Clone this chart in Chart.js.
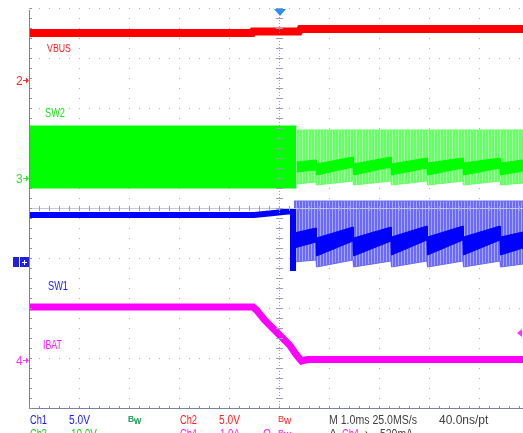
<!DOCTYPE html>
<html lang="en">
<head>
<meta charset="UTF-8">
<title>VBUS / SW2 / SW1 / IBAT capture</title>
<style>
    html, body { margin: 0; padding: 0; background: #fff; overflow: hidden; }
    canvas { display: block; }
</style>
</head>
<body>
<canvas id="scope" width="523" height="433"></canvas>
<script src="https://cdn.jsdelivr.net/npm/chart.js@4.4.1/dist/chart.umd.min.js"></script>
<script>
    // time in ms (1.0 ms/div, trigger at 0), level in divisions (0 = centre line)
    const vbusTime  = [-5, -0.54, -0.52, 0.40, 0.43, 4.88];
    const vbusLevel = [3.50, 3.50, 3.53, 3.53, 3.58, 3.58];

    const sw2PreTime   = [-5, 0.35];
    const sw2PreTop    = [1.64, 1.64];
    const sw2PreBottom = [0.40, 0.40];

    const sw2PostTime   = [0.35, 0.74, 0.75, 1.48, 1.49, 2.24, 2.25, 2.96, 2.97, 3.68, 3.69, 4.42, 4.43, 4.88];
    const sw2LightTop   = [1.56, 1.56, 1.56, 1.56, 1.56, 1.56, 1.56, 1.56, 1.56, 1.56, 1.56, 1.56, 1.56, 1.56];
    const sw2LightBot   = [0.48, 0.52, 0.46, 0.54, 0.46, 0.54, 0.46, 0.54, 0.46, 0.54, 0.46, 0.54, 0.46, 0.50];
    const sw2DarkTop    = [0.92, 0.96, 0.88, 1.02, 0.88, 1.02, 0.88, 1.00, 0.90, 1.00, 0.90, 1.00, 0.90, 0.96];
    const sw2DarkBot    = [0.72, 0.76, 0.66, 0.82, 0.66, 0.82, 0.66, 0.80, 0.66, 0.80, 0.66, 0.80, 0.66, 0.74];

    const sw1PreTime  = [-5, -0.50, -0.10, 0.26, 0.28, 0.28];
    const sw1PreLevel = [-0.14, -0.14, -0.10, -0.06, -0.06, -1.26];

    const sw1PostTime   = [0.30, 0.74, 0.75, 1.48, 1.49, 2.24, 2.25, 2.96, 2.97, 3.68, 3.69, 4.42, 4.43, 4.88];
    const sw1LightTop   = [0.14, 0.14, 0.14, 0.14, 0.14, 0.14, 0.14, 0.14, 0.14, 0.14, 0.14, 0.14, 0.14, 0.14];
    const sw1LightBot   = [-1.08, -1.04, -1.18, -1.04, -1.18, -1.06, -1.18, -1.06, -1.18, -1.06, -1.18, -1.06, -1.18, -1.12];
    const sw1DarkTop    = [-0.50, -0.40, -0.60, -0.38, -0.60, -0.38, -0.58, -0.36, -0.58, -0.36, -0.58, -0.36, -0.58, -0.48];
    const sw1DarkBot    = [-0.80, -0.68, -0.96, -0.66, -0.96, -0.66, -0.94, -0.64, -0.94, -0.64, -0.94, -0.64, -0.94, -0.80];

    const ibatTime  = [-5, -0.52, -0.45, -0.29, 0.01, 0.21, 0.35, 0.45, 0.57, 4.88];
    const ibatLevel = [-1.98, -1.98, -2.04, -2.24, -2.54, -2.74, -2.94, -3.06, -3.03, -3.03];

    const pts = (t, v) => t.map((x, i) => ({x: x, y: v[i]}));

    function stripes(color, gap) {
        let c = document.createElement('canvas');
        c.width = 3;
        c.height = 4;
        let g = c.getContext('2d');
        g.fillStyle = gap;
        g.fillRect(0, 0, 3, 4);
        g.fillStyle = color;
        g.fillRect(0, 0, 2, 4);
        return g.createPattern(c, 'repeat');
    }

    function trace(t, v, color, width, fill) {
        return {
            data: pts(t, v),
            borderColor: color,
            borderWidth: width,
            backgroundColor: fill || color,
            fill: fill ? '-1' : false,
            pointRadius: 0,
            tension: 0
        };
    }

    function text(ctx, s, x, y, color, size, w) {
        ctx.font = size + 'px "Liberation Sans", Arial, sans-serif';
        ctx.fillStyle = color;
        if (w) ctx.fillText(s, x, y, w); else ctx.fillText(s, x, y);
    }

    function bw(ctx, x, color) {
        text(ctx, 'B', x, 422, color, 9);
        text(ctx, 'w', x + 6, 424, color, 10);
    }

    const scopeDecor = {
        id: 'scopeDecor',
        afterDatasetsDraw(chart) {
            const ctx = chart.ctx, a = chart.chartArea;
            const cx = Math.round(chart.scales.x.getPixelForValue(0));
            const cy = Math.round(chart.scales.y.getPixelForValue(0));
            ctx.save();
            // centre lines with minor ticks
            ctx.strokeStyle = '#c6c9d9';
            ctx.lineWidth = 1;
            ctx.beginPath();
            ctx.moveTo(a.left, cy + 0.5);
            ctx.lineTo(a.right, cy + 0.5);
            ctx.stroke();
            ctx.setLineDash([1, 2]);
            ctx.strokeStyle = '#9aa0bc';
            ctx.beginPath();
            ctx.moveTo(cx + 0.5, a.top);
            ctx.lineTo(cx + 0.5, a.bottom);
            ctx.stroke();
            ctx.setLineDash([]);
            ctx.fillStyle = '#9aa0bc';
            for (let y = a.top; y <= a.bottom; y += 10) {
                ctx.fillRect(cx - 3, y, 7, 1);
            }
            for (let x = a.left; x <= a.right; x += 10) {
                ctx.fillRect(x, cy - 2, 1, 5);
            }
            // frame
            ctx.strokeStyle = '#7a82a2';
            ctx.beginPath();
            ctx.moveTo(a.left + 0.5, a.top + 2);
            ctx.lineTo(a.left + 0.5, a.bottom + 0.5);
            ctx.lineTo(a.right, a.bottom + 0.5);
            ctx.stroke();
            ctx.fillStyle = '#8a90ac';
            for (let y = a.top; y <= a.bottom; y += 10) ctx.fillRect(a.left + 1, y, 2, 1);
            for (let x = a.left; x <= a.right; x += 10) ctx.fillRect(x, a.bottom - 2, 1, 2);
            ctx.restore();
        },
        afterDraw(chart) {
            const ctx = chart.ctx;
            ctx.save();
            ctx.textBaseline = 'alphabetic';
            // trace names
            text(ctx, 'VBUS', 47, 52, '#ff1a1a', 11, 24);
            text(ctx, 'SW2', 45, 117, '#1ee01e', 12, 20);
            text(ctx, 'SW1', 48, 290, '#1a1aff', 12, 20);
            text(ctx, 'IBAT', 43, 349, '#ff1aff', 12, 19);

            // channel ground markers
            const arrow = (y, color) => {
                ctx.fillStyle = color;
                ctx.fillRect(23, y, 4, 1);
                ctx.beginPath();
                ctx.moveTo(26, y - 2.5);
                ctx.lineTo(29, y + 0.5);
                ctx.lineTo(26, y + 3.5);
                ctx.closePath();
                ctx.fill();
            };
            text(ctx, '2', 16, 85, '#ff2a2a', 12, 7);
            arrow(80, '#ff2a2a');
            text(ctx, '3', 16, 183, '#33e033', 12, 7);
            arrow(178, '#33e033');
            text(ctx, '4', 16, 365, '#ff33ff', 12, 7);
            arrow(360, '#ff33ff');
            ctx.fillStyle = '#2020e0';
            ctx.fillRect(13, 257, 6, 10);
            ctx.fillRect(20, 257, 9, 10);
            ctx.fillStyle = '#fff';
            ctx.fillRect(22, 262, 5, 1);
            ctx.fillRect(24, 260, 1, 5);

            // trigger position and trigger level
            ctx.fillStyle = '#2a8cff';
            ctx.beginPath();
            ctx.moveTo(274, 9);
            ctx.lineTo(286, 9);
            ctx.lineTo(280, 16);
            ctx.closePath();
            ctx.fill();
            ctx.fillStyle = '#ff33ff';
            ctx.beginPath();
            ctx.moveTo(517, 333);
            ctx.lineTo(522, 329);
            ctx.lineTo(522, 337);
            ctx.closePath();
            ctx.fill();

            // readout
            text(ctx, 'Ch1', 30, 424, '#1a1aff', 12, 17);
            text(ctx, '5.0V', 69, 424, '#1a1aff', 12, 21);
            bw(ctx, 128, '#1a1aff');
            text(ctx, 'Ch2', 180, 424, '#ff2020', 12, 17);
            text(ctx, '5.0V', 219, 424, '#ff2020', 12, 21);
            bw(ctx, 278, '#ff2020');
            text(ctx, 'M 1.0ms 25.0MS/s', 329, 424, '#404040', 12, 88);
            text(ctx, '40.0ns/pt', 439, 424, '#404040', 12, 61);

            text(ctx, 'Ch3', 30, 438, '#1ed01e', 12, 17);
            text(ctx, '10.0V', 71, 438, '#1ed01e', 12, 26);
            bw(ctx, 128, '#1ed01e');
            text(ctx, 'Ch4', 180, 438, '#ff20ff', 12, 17);
            text(ctx, '1.0A', 220, 438, '#ff20ff', 12, 20);
            text(ctx, '\u03a9', 263, 438, '#ff20ff', 12, 8);
            ctx.save();
            ctx.translate(0, 14);
            bw(ctx, 278, '#ff20ff');
            ctx.restore();
            text(ctx, 'A', 329, 438, '#404040', 12, 8);
            text(ctx, 'Ch4', 342, 438, '#ff20ff', 12, 17);
            text(ctx, '\u2198', 364, 438, '#404040', 12, 8);
            text(ctx, '520mA', 380, 438, '#404040', 12, 33);
            ctx.restore();
        }
    };

    const lightGreen = stripes('#66ff66', '#a8ffa8');
    const lightBlue = stripes('#6a6aff', '#a6a6ff');

    const datasets = [
        trace(ibatTime, ibatLevel, '#ff00ff', 7),
        trace(vbusTime, vbusLevel, '#ff0000', 8),
        trace(sw1PreTime, sw1PreLevel, '#0000ff', 6),
        trace(sw1PostTime, sw1DarkTop, '#0000ff', 1),
        trace(sw1PostTime, sw1DarkBot, '#0000ff', 1, '#0000ff'),
        trace(sw1PostTime, sw1LightTop, '#6a6aff', 1),
        trace(sw1PostTime, sw1LightBot, '#6a6aff', 1, lightBlue),
        trace(sw2PostTime, sw2DarkTop, '#00ff00', 1),
        trace(sw2PostTime, sw2DarkBot, '#00ff00', 1, '#00ff00'),
        trace(sw2PostTime, sw2LightTop, '#66ff66', 1),
        trace(sw2PostTime, sw2LightBot, '#66ff66', 1, lightGreen),
        trace(sw2PreTime, sw2PreTop, '#00ff00', 1),
        trace(sw2PreTime, sw2PreBottom, '#00ff00', 1, '#00ff00')
    ];

    new Chart(document.getElementById('scope').getContext('2d'), {
        type: 'line',
        data: {datasets: datasets},
        options: {
            responsive: false,
            animation: false,
            layout: {padding: {left: 29, top: 8, right: 0, bottom: 25}},
            plugins: {legend: {display: false}, tooltip: {enabled: false}},
            scales: {
                x: {
                    type: 'linear', min: -5, max: 4.88,
                    ticks: {display: false, stepSize: 1, includeBounds: false},
                    grid: {color: '#a6abc4', drawTicks: false},
                    border: {display: false, dash: [1, 9]}
                },
                y: {
                    type: 'linear', min: -4, max: 4,
                    ticks: {display: false, stepSize: 1},
                    grid: {color: '#a6abc4', drawTicks: false},
                    border: {display: false, dash: [1, 9]}
                }
            }
        },
        plugins: [scopeDecor]
    });
</script>
</body>
</html>
